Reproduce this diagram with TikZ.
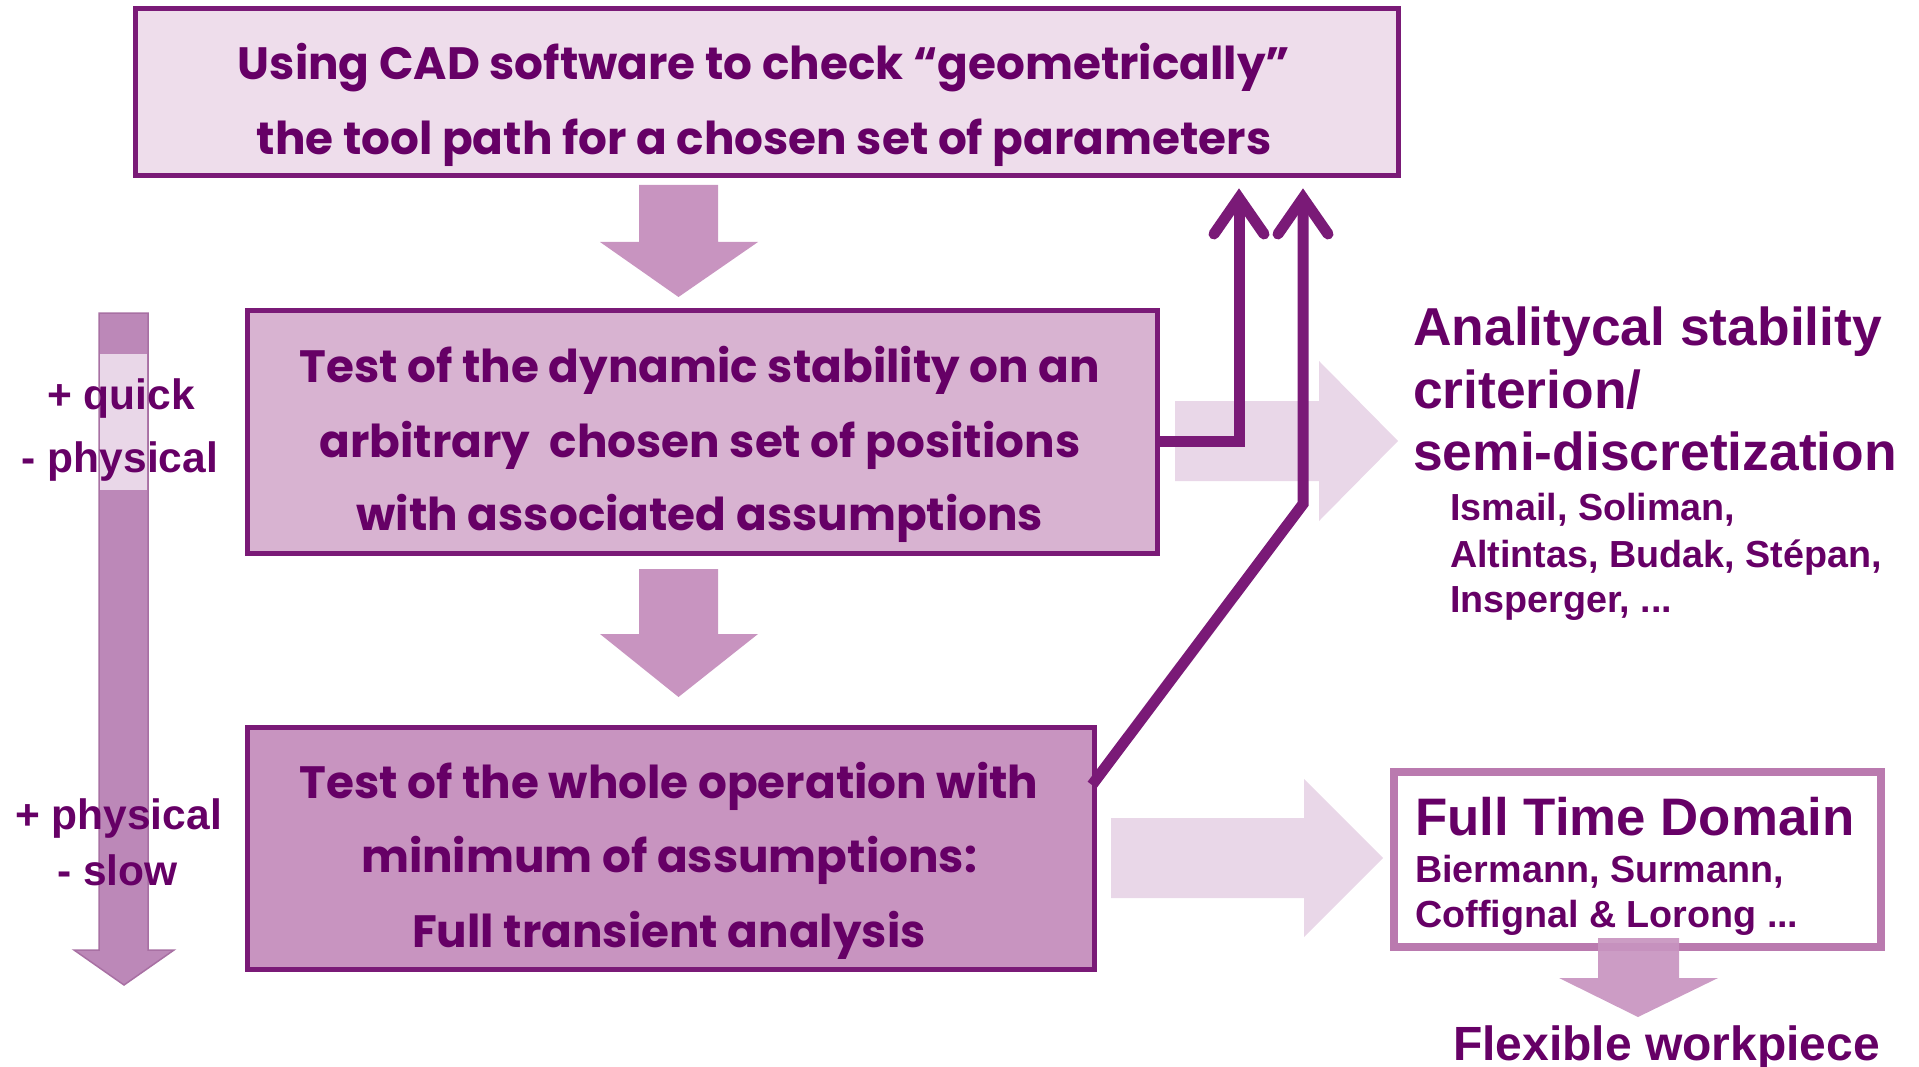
\documentclass[tikz,border=0pt]{standalone}
\usepackage{fontspec}
\setmainfont{Poppins}
\newfontfamily\arialf{Liberation Sans}
\definecolor{dk}{HTML}{7A1A77}
\definecolor{tx}{HTML}{660066}
\definecolor{topfill}{HTML}{EEDDEB}
\definecolor{midfill}{HTML}{D8B3D1}
\definecolor{lowfill}{HTML}{C894C0}
\definecolor{lightarr}{HTML}{E9D7E8}
\definecolor{leftarr}{HTML}{BC88B8}
\definecolor{leftedge}{HTML}{A870A3}
\definecolor{ftdb}{HTML}{BA7AAF}
\tikzset{
  boxshape/.style={draw=dk, line width=5pt, inner sep=0pt, outer sep=0pt},
  boxtext/.style={text=tx, font=\bfseries\fontsize{45.3}{74}\selectfont, anchor=base, inner sep=0pt},
  bigar/.style={text=tx, font=\arialf\bfseries\fontsize{53.4}{63}\selectfont, anchor=base west, inner sep=0pt},
  smallar/.style={text=tx, font=\arialf\bfseries\fontsize{37.7}{46}\selectfont, anchor=base west, inner sep=0pt},
  sidear/.style={text=tx, font=\arialf\bfseries\fontsize{42.5}{50}\selectfont, anchor=base, inner sep=0pt},
  dkline/.style={draw=dk, line width=11pt, line join=miter},
  barb/.style={draw=dk, line width=11pt, line cap=round, line join=miter},
}
\begin{document}
\begin{tikzpicture}[x=1pt,y=-1pt]
\useasboundingbox (0,0) rectangle (1919,1067);

% boxes
\node[boxshape, fill=topfill, minimum width=1263pt, minimum height=167pt] (cad) at (766.5,92.5) {};
\node[boxshape, fill=midfill, minimum width=910pt, minimum height=243pt] (dyn) at (702,431.5) {};
\node[boxshape, fill=lowfill, minimum width=847pt, minimum height=242pt] (whole) at (670.5,848) {};
\node[draw=ftdb, line width=8pt, fill=white, inner sep=0pt, minimum width=487pt, minimum height=175pt] (ftd) at (1637.5,859.5) {};

% box texts
\node[boxtext] (t1a) at (764,80) {Using CAD software to check “geometrically”};
\node[boxtext] (t1b) at (764,155) {the tool path for a chosen set of parameters};
\node[boxtext] (t2a) at (700,382) {Test of the dynamic stability on an};
\node[boxtext] (t2b) at (700,457) {arbitrary~ chosen set of positions};
\node[boxtext] (t2c) at (700,530) {with associated assumptions};
\node[boxtext] (t3a) at (669,798) {Test of the whole operation with};
\node[boxtext] (t3b) at (669,872) {minimum of assumptions:};
\node[boxtext] (t3c) at (669,947) {Full transient analysis};

% down block arrows between boxes
\fill[lowfill] (639,185) -- (718,185) -- (718,242) -- (758,242) -- (678.5,297) -- (600,242) -- (639,242) -- cycle;
\fill[lowfill] (639,569) -- (718,569) -- (718,634) -- (758,634) -- (678.5,697) -- (600,634) -- (639,634) -- cycle;

% left vertical arrow
\filldraw[fill=leftarr, draw=leftedge, line width=1.5pt] (99,313) -- (148,313) -- (148,950) -- (174,950) -- (124,985) -- (74,950) -- (99,950) -- cycle;
\fill[lightarr] (99.75,354) rectangle (147.25,490);
\node[sidear] (q1) at (121,409) {+ quick};
\node[sidear] (q2) at (120,472) {- physical};
\node[sidear] (q3) at (118.5,829) {+ physical};
\node[sidear] (q4) at (117.5,885) {- slow};

% light right arrows
\fill[lightarr] (1175,401) -- (1319,401) -- (1319,361) -- (1398,441) -- (1319,521) -- (1319,481) -- (1175,481) -- cycle;
\fill[lightarr] (1111,818) -- (1304,818) -- (1304,779) -- (1383,858) -- (1304,937) -- (1304,898) -- (1111,898) -- cycle;

% dark feedback arrows
\coordinate (aTop) at (1239,198);
\coordinate (bTop) at (1303,198);
\coordinate (bKnee) at (1303,504);
\draw[dkline] ([yshift=-9.5pt]dyn.east) -| (aTop);
\draw[barb] (1214,234) -- (aTop) -- (1264,234);
\draw[dkline] ([xshift=-2pt,yshift=-58pt]whole.north east) -- (bKnee) -- (bTop);
\draw[barb] (1278,234) -- (bTop) -- (1328,234);

% right texts
\node[bigar] (an1) at (1413,345) {Analitycal stability};
\node[bigar] (an2) at (1413,408) {criterion/};
\node[bigar] (an3) at (1413,470) {semi-discretization};
\node[smallar] (au1) at (1450,520) {Ismail, Soliman,};
\node[smallar] (au2) at (1450,567) {Altintas, Budak, Stépan,};
\node[smallar] (au3) at (1450,612) {Insperger, ...};

\node[bigar, font=\arialf\bfseries\fontsize{52.8}{60}\selectfont] (ft1) at (1415,835) {Full Time Domain};
\node[smallar] (ft2) at (1415,882) {Biermann, Surmann,};
\node[smallar] (ft3) at (1415,927) {Coffignal \& Lorong ...};

% arrow to flexible workpiece
\fill[lowfill, opacity=0.92] (1598,938) -- (1679,938) -- (1679,978) -- (1718,978) -- (1638,1017) -- (1559,978) -- (1598,978) -- cycle;
\node[bigar, font=\arialf\bfseries\fontsize{48}{56}\selectfont] (flex) at (1453,1060) {Flexible workpiece};
\end{tikzpicture}
\end{document}
